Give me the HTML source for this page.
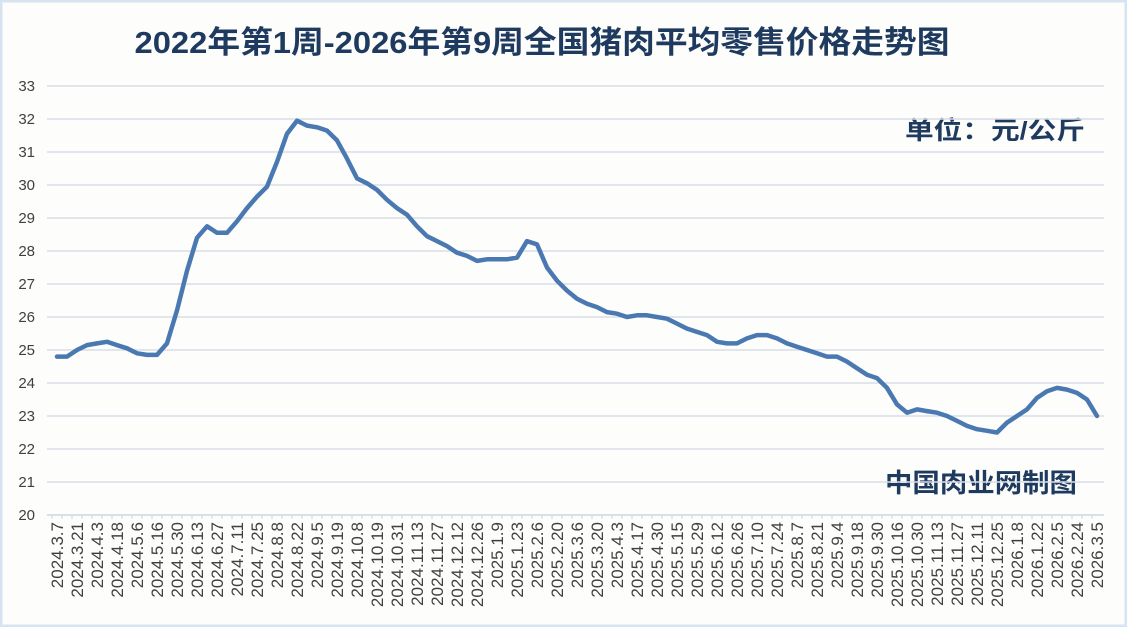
<!DOCTYPE html>
<html><head><meta charset="utf-8"><style>
html,body{margin:0;padding:0;background:#fff;}
#wrap{position:relative;width:1127px;height:627px;overflow:hidden;background:#fdfdfd;}
svg text{font-family:"Liberation Sans","Noto Sans CJK SC",sans-serif;}
</style></head><body>
<div id="wrap">
<svg id="chart" width="1127" height="627" xmlns="http://www.w3.org/2000/svg">
<rect x="1" y="1" width="1125" height="625" fill="#fdfdfc" stroke="#d6e3f0" stroke-width="3"/>
<text x="542" y="53" text-anchor="middle" font-size="31" font-weight="bold" fill="#1f3a5f" textLength="815" lengthAdjust="spacingAndGlyphs">2022年第1周-2026年第9周全国猪肉平均零售价格走势图</text>
<text x="995" y="139" text-anchor="middle" font-size="25" font-weight="bold" fill="#1f3a5f" textLength="180" lengthAdjust="spacingAndGlyphs">单位：元/公斤</text>
<text x="981" y="492" text-anchor="middle" font-size="26" font-weight="bold" fill="#1f3a5f" textLength="192" lengthAdjust="spacingAndGlyphs">中国肉业网制图</text>
<g id="grid"></g><g id="yticks"></g><g id="xticks"></g><g id="series"></g>
</svg>
</div>
<script>
const categories = ["2024.3.7","","2024.3.21","","2024.4.3","","2024.4.18","","2024.5.6","","2024.5.16","","2024.5.30","","2024.6.13","","2024.6.27","","2024.7.11","","2024.7.25","","2024.8.8","","2024.8.22","","2024.9.5","","2024.9.19","","2024.10.8","","2024.10.19","","2024.10.31","","2024.11.13","","2024.11.27","","2024.12.12","","2024.12.26","","2025.1.9","","2025.1.23","","2025.2.6","","2025.2.20","","2025.3.6","","2025.3.20","","2025.4.3","","2025.4.17","","2025.4.30","","2025.5.15","","2025.5.29","","2025.6.12","","2025.6.26","","2025.7.10","","2025.7.24","","2025.8.7","","2025.8.21","","2025.9.4","","2025.9.18","","2025.9.30","","2025.10.16","","2025.10.30","","2025.11.13","","2025.11.27","","2025.12.11","","2025.12.25","","2026.1.8","","2026.1.22","","2026.2.5","","2026.2.24","","2026.3.5"];
const prices = [24.8,24.8,25.0,25.15,25.2,25.25,25.15,25.05,24.9,24.85,24.85,25.2,26.2,27.4,28.4,28.75,28.55,28.55,28.9,29.3,29.65,29.95,30.7,31.55,31.95,31.8,31.75,31.65,31.35,30.8,30.2,30.05,29.85,29.55,29.3,29.1,28.75,28.45,28.3,28.15,27.95,27.85,27.7,27.75,27.75,27.75,27.8,28.3,28.2,27.5,27.1,26.8,26.55,26.4,26.3,26.15,26.1,26.0,26.05,26.05,26.0,25.95,25.8,25.65,25.55,25.45,25.25,25.2,25.2,25.35,25.45,25.45,25.35,25.2,25.1,25.0,24.9,24.8,24.8,24.65,24.45,24.25,24.15,23.85,23.35,23.1,23.2,23.15,23.1,23.0,22.85,22.7,22.6,22.55,22.5,22.8,23.0,23.2,23.55,23.75,23.85,23.8,23.7,23.5,23.0];
const yTicks = [20,21,22,23,24,25,26,27,28,29,30,31,32,33];

const NS="http://www.w3.org/2000/svg";
const X0=47,X1=1104,Y0=515,Y1=86,YMIN=20,YMAX=33;
const FIRST=57,LAST=1097;
const step=(LAST-FIRST)/(categories.length-1);
function xs(i){return FIRST+step*i;}
function ys(v){return Y0-(v-YMIN)/(YMAX-YMIN)*(Y0-Y1);}
function mk(tag,attrs,parent){const e=document.createElementNS(NS,tag);for(const k in attrs)e.setAttribute(k,attrs[k]);parent.appendChild(e);return e;}
const grid=document.getElementById('grid'),yt=document.getElementById('yticks'),xt=document.getElementById('xticks'),ser=document.getElementById('series');
yTicks.forEach(v=>{
  const l=mk('line',{x1:X0,x2:X1,y1:ys(v),y2:ys(v),stroke:v===YMIN?'#cfd6e0':'#d9dee7','stroke-width':1.5},grid);
  
  
  const t=mk('text',{x:35,y:ys(v)+5,'text-anchor':'end','font-size':15,fill:'#404040'},yt);
  t.textContent=v;
  
  
});
categories.forEach((c,i)=>{
  const tk=mk('line',{x1:xs(i)-step/2,x2:xs(i)-step/2,y1:Y0,y2:Y0+4,stroke:'#cfd6e0','stroke-width':1},xt);
  
  
  if(c){
    const x=xs(i)+6,y=Y0+7;
    const t=mk('text',{x:x,y:y,'text-anchor':'end','font-size':17,fill:'#404040',transform:'rotate(-90 '+x+' '+y+')'},xt);
    t.textContent=c;
    
    
  }
});
const d=prices.map((v,i)=>(i?'L':'M')+xs(i).toFixed(1)+' '+ys(v).toFixed(1)).join(' ');
const p=mk('path',{d:d,fill:'none',stroke:'#4a79b2','stroke-width':4.5,'stroke-linejoin':'round','stroke-linecap':'round'},ser);


</script>
</body></html>
